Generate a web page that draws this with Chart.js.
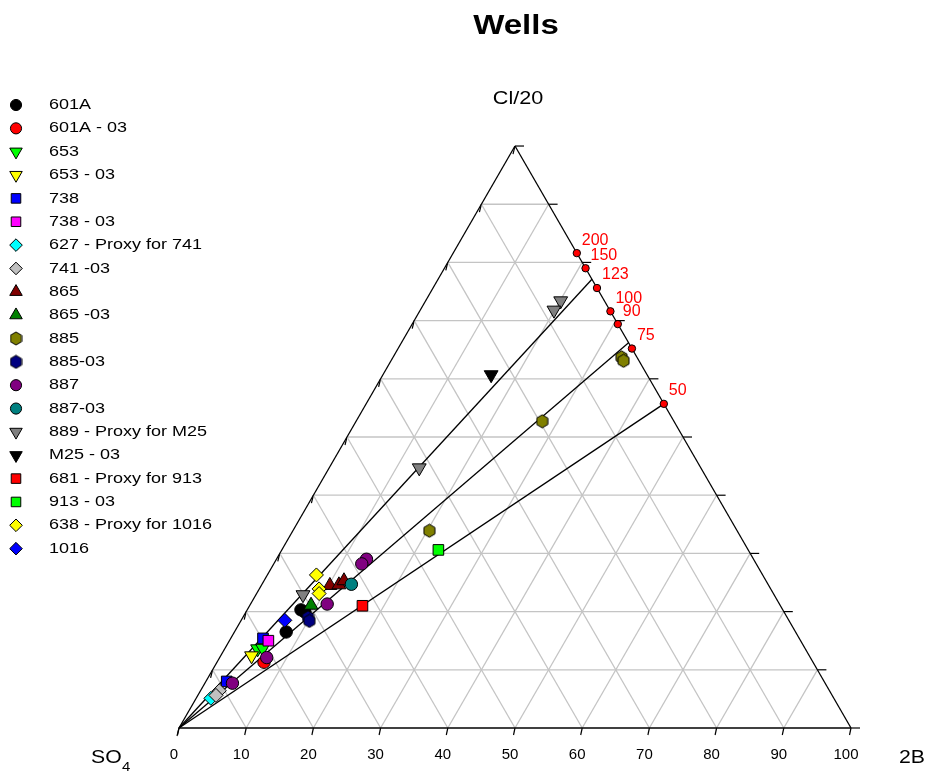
<!DOCTYPE html>
<html>
<head>
<meta charset="utf-8">
<title>Wells</title>
<script src="https://cdn.jsdelivr.net/npm/chart.js@4.4.0/dist/chart.umd.min.js"></script>
<style>
  html, body { margin: 0; padding: 0; background: #fff; }
  #wrap { width: 927px; height: 772px; }
</style>
</head>
<body>
<div id="wrap"><canvas id="ternary" width="927" height="772"></canvas></div>
<script>
// well series, values in percent of the ternary sum (2B and Cl/20, SO4 is the rest)
const seriesNames = [
  '601A', '601A - 03', '653', '653 - 03', '738', '738 - 03',
  '627 - Proxy for 741', '741 -03', '865', '865 -03', '885', '885-03',
  '887', '887-03', '889 - Proxy for M25', 'M25 - 03',
  '681 - Proxy for 913', '913 - 03', '638 - Proxy for 1016', '1016'
]
const series2B = [
  [8.0, 7.7, 8.8], [7.0], [4.9, 5.6], [4.6], [3.1, 4.8], [5.8],
  [2.2], [2.8, 2.7], [10.2, 11.5, 11.9], [9.1], [20.3, 27.7, 34.0, 34.6], [9.7, 10.2],
  [13.4, 13.1, 11.4, 7.0, 4.1], [13.3], [20.1, 19.9, 13.4, 7.0], [16.1],
  [16.8], [23.3], [7.3, 8.9, 9.3], [6.5]
]
const seriesCl = [
  [20.3, 16.5, 19.9], [11.3], [13.6, 13.7], [12.4], [8.0, 15.4], [15.0],
  [5.1], [6.4, 5.6], [24.5, 24.6, 25.3], [21.1], [33.9, 52.7, 63.7, 63.1], [19.0, 18.4],
  [29.0, 28.2, 21.3, 12.1, 7.7], [24.7], [73.4, 71.8, 44.7, 22.9], [60.7],
  [21.0], [30.6], [26.3, 23.9, 23.1], [18.5]
]

// reference ratios marked on the Cl/20 - 2B side
const refLabels = ['200', '150', '123', '100', '90', '75', '50']
const refCl = [81.6, 79.0, 75.6, 71.6, 69.4, 65.2, 55.7]
// mixing lines from the SO4 corner
const rayCl = [77.1, 66.2, 55.7]

const tickValues = [0, 10, 20, 30, 40, 50, 60, 70, 80, 90, 100]

// styles
const seriesColors = [
  '#000000', '#ff0000', '#00ff00', '#ffff00', '#0000ff', '#ff00ff',
  '#00ffff', '#c0c0c0', '#800000', '#008000', '#808000', '#000080',
  '#800080', '#008080', '#808080', '#000000',
  '#ff0000', '#00ff00', '#ffff00', '#0000ff'
]
const seriesShapes = [
  'circle', 'circle', 'down', 'down', 'rect', 'rect',
  'rectRot', 'rectRot', 'triangle', 'triangle', 'hex', 'hex',
  'circle', 'circle', 'down', 'down',
  'rect', 'rect', 'rectRot', 'rectRot'
]

const FONT = '"Liberation Sans", Arial, Helvetica, sans-serif'
const SQ3 = Math.sqrt(3) / 2

function toXY(b, c) {
  return { x: b + c / 2, y: c * SQ3 }
}

function hexImage(fill, w, h) {
  const cv = document.createElement('canvas')
  cv.width = w + 2
  cv.height = h + 2
  const g = cv.getContext('2d')
  const cx = cv.width / 2, cy = cv.height / 2
  g.beginPath()
  g.moveTo(cx, cy - h / 2)
  g.lineTo(cx + w / 2, cy - h / 4)
  g.lineTo(cx + w / 2, cy + h / 4)
  g.lineTo(cx, cy + h / 2)
  g.lineTo(cx - w / 2, cy + h / 4)
  g.lineTo(cx - w / 2, cy - h / 4)
  g.closePath()
  g.fillStyle = fill
  g.fill()
  g.lineWidth = 1
  g.strokeStyle = '#000'
  g.stroke()
  return cv
}

function markerStyle(shape, color) {
  if (shape === 'hex') return { pointStyle: hexImage(color, 11, 13), rotation: 0, radius: 7 }
  if (shape === 'down') return { pointStyle: 'triangle', rotation: 180, radius: 8 }
  if (shape === 'triangle') return { pointStyle: 'triangle', rotation: 0, radius: 8 }
  if (shape === 'rectRot') return { pointStyle: 'rectRot', rotation: 0, radius: 7 }
  if (shape === 'rect') return { pointStyle: 'rect', rotation: 0, radius: 7.5 }
  return { pointStyle: 'circle', rotation: 0, radius: 6.2 }
}

// text drawn wider than the font, like the original export
function wideText(ctx, text, x, y, sx) {
  ctx.save()
  ctx.translate(x, y)
  ctx.scale(sx, 1)
  ctx.fillText(text, 0, 0)
  ctx.restore()
}

function segment(p, q, color, order) {
  return {
    type: 'line',
    data: [toXY(p[0], p[1]), toXY(q[0], q[1])],
    borderColor: color,
    borderWidth: 1.3,
    pointRadius: 0,
    fill: false,
    order: order
  }
}

const datasets = []

// grid
for (let k = 10; k < 100; k += 10) {
  datasets.push(segment([0, k], [100 - k, k], '#c4c4c4', 300))
  datasets.push(segment([k, 0], [k, 100 - k], '#c4c4c4', 300))
  datasets.push(segment([k, 0], [0, k], '#c4c4c4', 300))
}
// triangle
datasets.push(segment([0, 0], [100, 0], '#000', 200))
datasets.push(segment([100, 0], [0, 100], '#000', 200))
datasets.push(segment([0, 100], [0, 0], '#000', 200))
// rays
rayCl.forEach(function (c) {
  datasets.push(segment([0, 0], [100 - c, c], '#000', 150))
})

// reference points
datasets.push({
  type: 'scatter',
  data: refCl.map(function (c) { return toXY(100 - c, c) }),
  backgroundColor: '#ff0000',
  borderColor: '#000',
  borderWidth: 1,
  pointRadius: 3.7,
  order: 100
})

// wells
seriesNames.forEach(function (name, i) {
  const st = markerStyle(seriesShapes[i], seriesColors[i])
  datasets.push({
    type: 'scatter',
    label: name,
    data: series2B[i].map(function (b, j) { return toXY(b, seriesCl[i][j]) }),
    backgroundColor: seriesColors[i],
    borderColor: '#000',
    borderWidth: 1,
    pointStyle: st.pointStyle,
    rotation: st.rotation,
    pointRadius: st.radius,
    order: 40 - i
  })
})

const decorPlugin = {
  id: 'decor',
  beforeDatasetsDraw(chart) {
    const ctx = chart.ctx
    const xs = chart.scales.x, ys = chart.scales.y
    const px = function (b, c) {
      const p = toXY(b, c)
      return [xs.getPixelForValue(p.x), ys.getPixelForValue(p.y)]
    }
    ctx.save()
    ctx.strokeStyle = '#000'
    ctx.lineWidth = 1.2
    tickValues.forEach(function (v) {
      // bottom
      let p = px(v, 0)
      ctx.beginPath(); ctx.moveTo(p[0], p[1]); ctx.lineTo(p[0] - 1.5, p[1] + 7); ctx.stroke()
      // left
      p = px(0, v)
      ctx.beginPath(); ctx.moveTo(p[0], p[1]); ctx.lineTo(p[0] - 2, p[1] + 8); ctx.stroke()
      // right
      p = px(100 - v, v)
      ctx.beginPath(); ctx.moveTo(p[0], p[1]); ctx.lineTo(p[0] + 9, p[1]); ctx.stroke()
    })
    ctx.restore()
  },
  afterDraw(chart) {
    const ctx = chart.ctx
    const xs = chart.scales.x, ys = chart.scales.y
    ctx.save()
    ctx.fillStyle = '#000'
    ctx.textBaseline = 'middle'

    ctx.textAlign = 'center'
    ctx.font = 'bold 28px ' + FONT
    wideText(ctx, 'Wells', 516, 26, 1.18)

    ctx.font = '18px ' + FONT
    wideText(ctx, 'Cl/20', 518, 99, 1.2)
    wideText(ctx, '2B', 912, 758, 1.18)
    ctx.textAlign = 'left'
    wideText(ctx, 'SO', 91, 758, 1.18)
    ctx.font = '13px ' + FONT
    wideText(ctx, '4', 122, 767, 1.15)

    ctx.textAlign = 'center'
    ctx.font = '15px ' + FONT
    tickValues.forEach(function (v) {
      const p = toXY(v, 0)
      ctx.fillText(String(v), xs.getPixelForValue(p.x) - 5, 755)
    })

    // reference labels
    ctx.fillStyle = '#ff0000'
    ctx.textAlign = 'left'
    ctx.font = '16px ' + FONT
    refLabels.forEach(function (t, i) {
      const p = toXY(100 - refCl[i], refCl[i])
      ctx.fillText(t, xs.getPixelForValue(p.x) + 5, ys.getPixelForValue(p.y) - 13)
    })

    // legend
    const helpers = Chart.helpers
    seriesNames.forEach(function (name, i) {
      const y = 105 + i * 23.35
      const st = markerStyle(seriesShapes[i], seriesColors[i])
      ctx.fillStyle = seriesColors[i]
      ctx.strokeStyle = '#000'
      ctx.lineWidth = 1
      helpers.drawPoint(ctx, { pointStyle: st.pointStyle, radius: st.radius * 0.9, rotation: st.rotation, borderWidth: 1 }, 16, y)
      ctx.fillStyle = '#000'
      ctx.font = '15px ' + FONT
      wideText(ctx, name, 49, y, 1.2)
    })
    ctx.restore()
  }
}

// pixel layout: SO4 corner at (179, 728), one percent = 6.72 px
const xMin = -179 / 6.72
const xMax = (927 - 179) / 6.72
const yMax = 728 / 6.72
const yMin = yMax - 772 / 6.72

new Chart(document.getElementById('ternary').getContext('2d'), {
  type: 'scatter',
  data: { datasets: datasets },
  options: {
    responsive: false,
    animation: false,
    events: [],
    layout: { padding: 0, autoPadding: false },
    plugins: {
      legend: { display: false },
      title: { display: false },
      tooltip: { enabled: false }
    },
    scales: {
      x: { type: 'linear', min: xMin, max: xMax, display: false },
      y: { type: 'linear', min: yMin, max: yMax, display: false }
    }
  },
  plugins: [decorPlugin]
})
</script>
</body>
</html>
